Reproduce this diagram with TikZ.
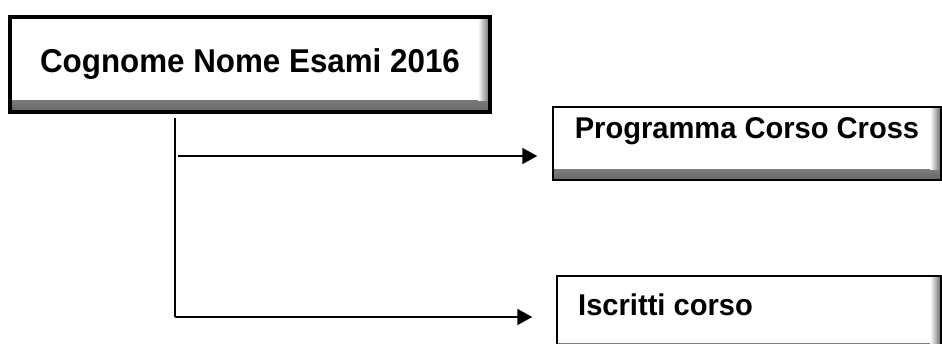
\documentclass[tikz,border=0pt]{standalone}
\usepackage{fontspec}
\setmainfont{Liberation Sans}
\usepackage{graphicx}
\usetikzlibrary{arrows.meta}
\tikzset{
  shadebox/.style={draw=black, fill=white, path picture={
    \shade[top color=white, bottom color=black!60]
      ([yshift=#1]path picture bounding box.south west) rectangle (path picture bounding box.south east);
    \shade[left color=white, right color=black!60]
      ([xshift=-#1]path picture bounding box.north east) rectangle ([yshift=#1]path picture bounding box.south east);
  }},
  titlebox/.style={shadebox=12pt, line width=4pt, minimum width=480pt, minimum height=95pt, inner sep=0pt},
  childbox/.style={shadebox=11pt, line width=1.5pt, inner sep=0pt},
  lbl/.style={font=\fontsize{30}{35}\selectfont\bfseries, inner sep=0pt},
  conn/.style={line width=2pt, draw=black},
  arr/.style={conn, -{Triangle[length=15pt,width=16pt]}},
}
\begin{document}
\begin{tikzpicture}[x=1pt,y=-1pt]
\useasboundingbox (0,0) rectangle (942,343);
\clip (0,0) rectangle (942,343);
% boxes
\node[titlebox, font=\fontsize{33}{38}\selectfont\bfseries] (top) at (250,64.5) {\scalebox{0.95}[1]{Cognome Nome Esami 2016}};
\node[childbox, minimum width=388pt, minimum height=73pt] (prog) at (747,143.5) {};
\node[lbl] (progt) at ([yshift=12pt]prog.center) {\scalebox{0.97}[1]{Programma Corso Cross}};
\node[childbox, minimum width=384pt, minimum height=78pt] (iscr) at (749,315) {};
\node[lbl, anchor=base west] (iscrt) at (578,315) {\scalebox{0.97}[1]{Iscritti corso}};
% connectors
\coordinate (j0) at (178,156);
\coordinate (j1) at (175,317);
\draw[conn] ([yshift=-4pt]top.south -| j1) -- (j1);
\draw[arr, shorten >=15pt] (j0) -- (prog.west |- j0);
\draw[arr, shorten >=24pt] (j1) -- (iscr.west |- j1);
\end{tikzpicture}
\end{document}
